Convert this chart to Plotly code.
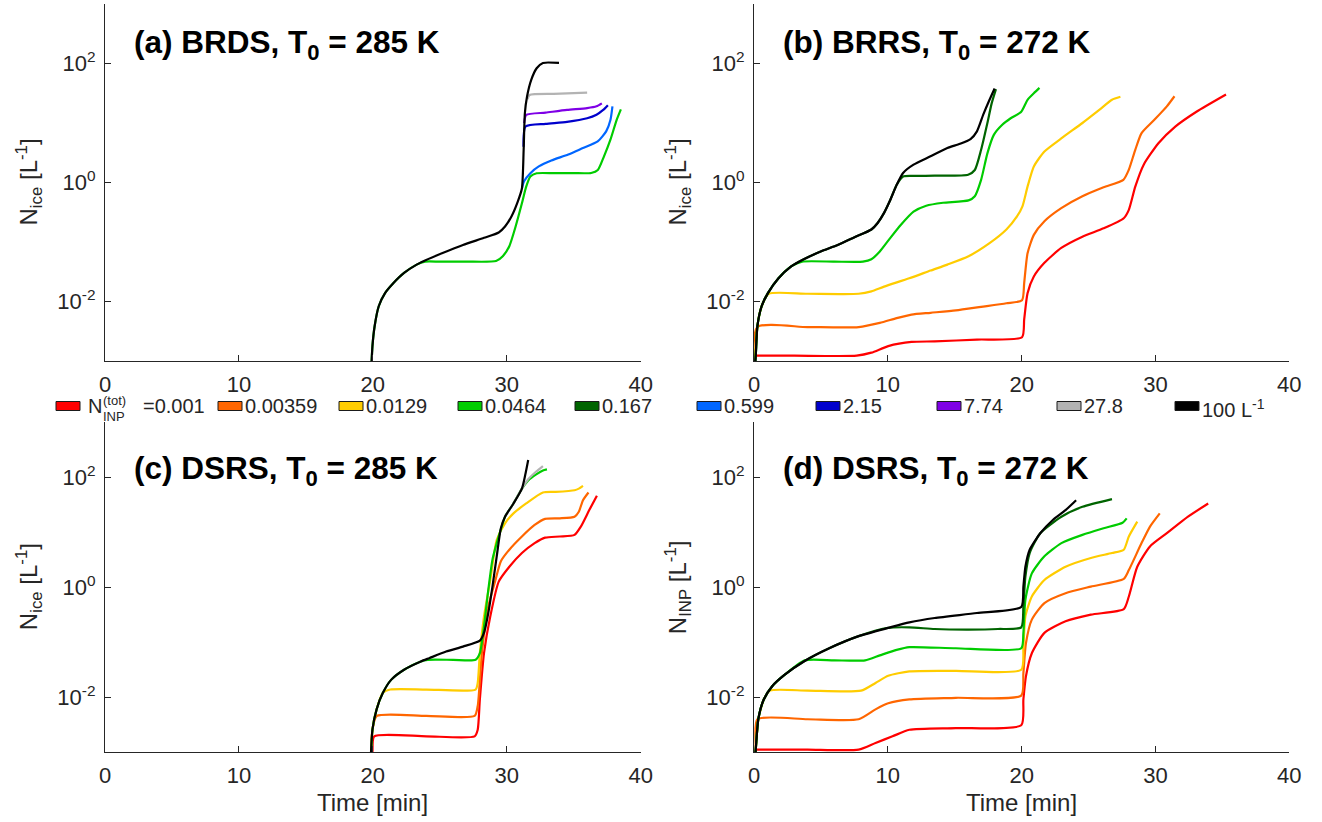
import plotly.graph_objects as go

# ---------------- legend / series definitions ----------------
SERIES_LABELS = ["0.001", "0.00359", "0.0129", "0.0464", "0.167",
                 "0.599", "2.15", "7.74", "27.8", "100"]
SERIES_COLORS = ["#FF0000", "#FF6600", "#FFCC00", "#00CC00", "#006400",
                 "#0066FF", "#0000CC", "#7F00E6", "#B3B3B3", "#000000"]

# ---------------- panel (a) BRDS, T0 = 285 K  (time [min], log10 N) ----------------
A_GREEN_T = [19.85, 19.97, 20.13, 20.44, 20.91, 21.54, 22.33, 23.27, 23.9, 25.0, 27.0, 29.2, 29.7, 30.19, 30.66, 31.13, 31.45, 31.76, 32.23, 33.5, 35.0, 36.3, 36.8, 37.26, 37.74, 38.2, 38.52]
A_GREEN_LOGN = [-3.3, -2.75, -2.42, -2.08, -1.86, -1.69, -1.52, -1.38, -1.33, -1.33, -1.33, -1.32, -1.24, -1.07, -0.74, -0.35, -0.07, 0.10, 0.155, 0.157, 0.157, 0.16, 0.21, 0.44, 0.72, 1.05, 1.23]
A_BLUE_T = [31.13, 31.29, 31.76, 32.39, 33.33, 34.59, 35.69, 36.79, 37.42, 37.74, 37.89]
A_BLUE_LOGN = [-0.10, 0.02, 0.157, 0.27, 0.37, 0.47, 0.58, 0.69, 0.86, 1.05, 1.28]
A_NAVY_T = [31.25, 31.4, 32.9, 34.5, 36.0, 36.7, 37.2, 37.55]
A_NAVY_LOGN = [0.6, 0.94, 0.985, 1.02, 1.08, 1.14, 1.22, 1.30]
A_PURPLE_T = [31.3, 31.45, 32.9, 34.5, 36.0, 36.7, 37.1]
A_PURPLE_LOGN = [1.0, 1.136, 1.175, 1.22, 1.25, 1.28, 1.33]
A_GRAY_T = [31.55, 31.7, 33.5, 36.0]
A_GRAY_LOGN = [1.40, 1.47, 1.49, 1.51]
A_BLACK_T = [19.85, 19.97, 20.13, 20.44, 20.91, 21.54, 22.33, 23.27, 23.9, 25.16, 26.73, 28.3, 29.4, 29.87, 30.35, 30.82, 31.13, 31.26, 31.35, 31.51, 31.82, 32.23, 32.7, 33.9]
A_BLACK_LOGN = [-3.3, -2.75, -2.42, -2.08, -1.86, -1.69, -1.52, -1.38, -1.31, -1.19, -1.05, -0.93, -0.84, -0.74, -0.57, -0.32, -0.10, 0.55, 1.16, 1.44, 1.72, 1.92, 2.01, 2.01]

# ---------------- panel (b) BRRS, T0 = 272 K ----------------
B_RED_T = [0.1, 3.0, 7.67, 8.77, 10.03, 11.77, 13.5, 16.66, 20.03, 20.19, 20.44, 20.91, 21.7, 22.96, 24.54, 26.12, 27.63, 28.01, 28.49, 29.12, 30.22, 31.48, 33.06, 35.27]
B_RED_LOGN = [-2.91, -2.91, -2.91, -2.86, -2.75, -2.68, -2.67, -2.64, -2.60, -2.30, -1.86, -1.58, -1.35, -1.10, -0.91, -0.77, -0.60, -0.46, -0.07, 0.30, 0.66, 0.94, 1.19, 1.48]
B_ORANGE_T = [0.0, 0.25, 4.0, 7.82, 9.4, 10.66, 11.77, 13.19, 15.08, 16.97, 18.86, 20.03, 20.19, 20.44, 20.91, 21.7, 22.96, 24.54, 26.12, 27.6, 28.0, 28.49, 28.96, 29.9, 30.85, 31.42]
B_ORANGE_LOGN = [-3.3, -2.43, -2.43, -2.43, -2.36, -2.28, -2.22, -2.19, -2.15, -2.09, -2.03, -1.98, -1.69, -1.19, -0.88, -0.65, -0.43, -0.23, -0.08, 0.045, 0.21, 0.55, 0.83, 1.05, 1.28, 1.45]
B_YELLOW_T = [0.0, 0.25, 0.57, 1.1, 4.0, 7.82, 8.77, 9.72, 11.6, 13.19, 14.45, 16.03, 17.6, 18.86, 19.65, 20.06, 20.44, 20.91, 21.7, 22.96, 24.54, 25.8, 26.75, 27.38]
B_YELLOW_LOGN = [-3.3, -2.42, -2.08, -1.87, -1.87, -1.87, -1.83, -1.75, -1.61, -1.48, -1.38, -1.24, -1.02, -0.79, -0.57, -0.40, -0.07, 0.27, 0.52, 0.74, 1.0, 1.22, 1.39, 1.44]
B_GREEN_T = [0.0, 0.13, 0.25, 0.57, 1.04, 1.83, 2.78, 3.6, 6.0, 8.14, 8.77, 9.4, 10.19, 10.98, 11.92, 12.87, 14.13, 16.03, 16.5, 16.97, 17.44, 17.92, 18.55, 19.18, 19.97, 20.44, 20.91, 21.33]
B_GREEN_LOGN = [-3.3, -2.91, -2.42, -2.08, -1.86, -1.61, -1.41, -1.33, -1.33, -1.33, -1.29, -1.16, -0.93, -0.71, -0.49, -0.39, -0.34, -0.30, -0.23, 0.045, 0.49, 0.80, 0.97, 1.08, 1.19, 1.39, 1.50, 1.59]
B_DKGREEN_T = [0.0, 0.13, 0.25, 0.57, 1.04, 1.83, 2.78, 3.72, 4.98, 6.25, 7.51, 8.77, 9.24, 9.72, 10.19, 10.66, 11.14, 11.92, 13.5, 16.0, 16.5, 16.97, 17.44, 17.76, 18.08]
B_DKGREEN_LOGN = [-3.3, -2.91, -2.42, -2.08, -1.86, -1.61, -1.41, -1.29, -1.16, -1.05, -0.92, -0.79, -0.68, -0.51, -0.29, -0.04, 0.10, 0.11, 0.115, 0.13, 0.21, 0.55, 1.0, 1.33, 1.57]
B_BLACK_T = [0.0, 0.13, 0.25, 0.57, 1.04, 1.83, 2.78, 3.72, 4.98, 6.25, 7.51, 8.77, 9.24, 9.72, 10.19, 10.66, 11.14, 11.92, 13.19, 14.45, 15.39, 16.18, 16.66, 17.13, 17.6, 17.98]
B_BLACK_LOGN = [-3.3, -2.91, -2.42, -2.08, -1.86, -1.61, -1.41, -1.29, -1.16, -1.05, -0.92, -0.79, -0.68, -0.51, -0.29, -0.04, 0.16, 0.30, 0.44, 0.58, 0.65, 0.73, 0.86, 1.14, 1.39, 1.58]

# ---------------- panel (c) DSRS, T0 = 285 K ----------------
C_RED_T = [19.85, 19.97, 20.1, 24.0, 27.6, 27.83, 27.99, 28.3, 28.77, 29.4, 30.19, 31.13, 32.08, 32.86, 33.96, 35.06, 35.53, 36.16, 36.73]
C_RED_LOGN = [-3.3, -3.0, -2.71, -2.71, -2.71, -2.59, -2.04, -1.20, -0.53, 0.10, 0.37, 0.62, 0.80, 0.90, 0.92, 0.95, 1.10, 1.40, 1.66]
C_ORANGE_T = [19.85, 19.97, 20.3, 24.0, 27.6, 27.83, 28.14, 28.62, 29.09, 29.56, 30.19, 31.13, 32.08, 32.86, 33.96, 35.06, 35.38, 35.69, 36.1]
C_ORANGE_LOGN = [-3.3, -2.59, -2.34, -2.34, -2.34, -2.16, -1.20, -0.35, 0.07, 0.47, 0.68, 0.92, 1.13, 1.24, 1.25, 1.28, 1.37, 1.58, 1.72]
C_YELLOW_T = [19.85, 19.97, 20.28, 20.75, 21.3, 24.0, 27.67, 27.83, 27.99, 28.3, 28.77, 29.25, 29.87, 30.5, 31.45, 32.7, 33.65, 35.06, 35.38, 35.69]
C_YELLOW_LOGN = [-3.3, -2.59, -2.22, -1.92, -1.86, -1.86, -1.86, -1.74, -1.20, -0.53, 0.13, 0.86, 1.16, 1.34, 1.52, 1.72, 1.73, 1.76, 1.79, 1.84]
C_GREEN_T = [19.85, 19.97, 20.28, 20.75, 21.38, 22.33, 23.58, 24.1, 26.0, 27.67, 27.99, 28.3, 28.62, 28.93, 29.25, 29.56, 29.87, 30.5, 31.13, 31.6, 32.2, 32.7, 33.0]
C_GREEN_LOGN = [-3.3, -2.59, -2.22, -1.92, -1.68, -1.50, -1.35, -1.32, -1.32, -1.32, -1.20, -0.71, -0.05, 0.50, 0.80, 1.05, 1.28, 1.52, 1.79, 1.94, 2.05, 2.12, 2.14]
C_GRAY_T = [29.87, 30.5, 31.13, 31.6, 32.2, 32.7]
C_GRAY_LOGN = [1.28, 1.52, 1.79, 1.96, 2.10, 2.20]
C_BLACK_T = [19.81, 19.97, 20.28, 20.75, 21.38, 22.33, 23.58, 24.21, 25.47, 26.73, 27.99, 28.3, 28.62, 28.93, 29.25, 29.56, 29.87, 30.5, 31.13, 31.38, 31.6]
C_BLACK_LOGN = [-3.3, -2.59, -2.22, -1.92, -1.68, -1.50, -1.35, -1.29, -1.17, -1.08, -0.97, -0.83, -0.47, 0.01, 0.56, 1.07, 1.28, 1.52, 1.79, 2.04, 2.31]

# ---------------- panel (d) DSRS, T0 = 272 K ----------------
D_RED_T = [0.1, 4.0, 7.82, 9.08, 10.35, 11.61, 15.08, 19.97, 20.13, 20.32, 20.76, 21.7, 23.28, 25.17, 27.63, 28.01, 28.64, 29.59, 30.85, 32.43, 33.94]
D_RED_LOGN = [-2.95, -2.95, -2.95, -2.83, -2.71, -2.59, -2.56, -2.51, -2.04, -1.62, -1.20, -0.83, -0.62, -0.50, -0.40, -0.17, 0.37, 0.74, 0.98, 1.28, 1.52]
D_ORANGE_T = [0.0, 0.13, 0.25, 4.0, 7.82, 9.08, 10.03, 11.61, 15.08, 19.97, 20.13, 20.32, 20.76, 21.7, 23.28, 25.17, 27.63, 28.01, 28.96, 29.59, 30.32]
D_ORANGE_LOGN = [-3.3, -2.95, -2.40, -2.40, -2.40, -2.22, -2.11, -2.04, -2.01, -1.97, -1.56, -1.02, -0.59, -0.29, -0.11, 0.01, 0.15, 0.31, 0.80, 1.10, 1.34]
D_YELLOW_T = [0.0, 0.13, 0.32, 0.73, 1.2, 4.0, 8.0, 9.08, 10.03, 11.61, 15.08, 19.97, 20.13, 20.28, 20.76, 21.7, 23.28, 25.17, 26.75, 27.63, 28.01, 28.64]
D_YELLOW_LOGN = [-3.3, -2.95, -2.40, -2.04, -1.88, -1.88, -1.88, -1.74, -1.61, -1.53, -1.52, -1.50, -1.08, -0.53, -0.17, 0.13, 0.37, 0.53, 0.62, 0.68, 0.92, 1.19]
D_GREEN_T = [0.0, 0.13, 0.32, 0.73, 1.36, 2.30, 3.8, 6.0, 8.3, 9.4, 10.66, 11.61, 15.08, 19.97, 20.13, 20.28, 20.76, 21.7, 22.97, 24.54, 26.12, 27.54, 27.85]
D_GREEN_LOGN = [-3.3, -2.95, -2.40, -2.04, -1.80, -1.59, -1.33, -1.33, -1.33, -1.24, -1.14, -1.09, -1.11, -1.11, -0.83, -0.23, 0.25, 0.56, 0.80, 0.95, 1.07, 1.17, 1.25]
D_DKGREEN_T = [0.0, 0.13, 0.32, 0.73, 1.36, 2.30, 3.72, 5.62, 7.82, 10.03, 11.61, 13.5, 16.03, 18.23, 19.97, 20.13, 20.28, 20.6, 21.39, 22.97, 24.54, 26.75]
D_DKGREEN_LOGN = [-3.3, -2.95, -2.40, -2.04, -1.80, -1.59, -1.35, -1.11, -0.89, -0.74, -0.73, -0.76, -0.77, -0.76, -0.73, -0.35, 0.19, 0.62, 0.98, 1.28, 1.46, 1.60]
D_BLACK_T = [0.0, 0.13, 0.32, 0.73, 1.36, 2.30, 3.72, 5.62, 7.82, 10.03, 11.61, 13.5, 16.66, 19.97, 20.13, 20.28, 20.6, 21.39, 22.33, 23.28, 24.07]
D_BLACK_LOGN = [-3.3, -2.95, -2.40, -2.04, -1.80, -1.59, -1.35, -1.11, -0.89, -0.74, -0.64, -0.56, -0.47, -0.36, 0.01, 0.37, 0.68, 0.98, 1.22, 1.40, 1.58]

# ---------------- axes / text ----------------
X_TICKS = [0, 10, 20, 30, 40]
Y_TICKS = [0.01, 1, 100]
Y_TICKTEXT = ["10<sup>-2</sup>", "10<sup>0</sup>", "10<sup>2</sup>"]
PANEL_TITLES = ["(a) BRDS, T<sub>0</sub> = 285 K", "(b) BRRS, T<sub>0</sub> = 272 K",
                "(c) DSRS, T<sub>0</sub> = 285 K", "(d) DSRS, T<sub>0</sub> = 272 K"]
Y_LABELS = ["N<sub>ice</sub> [L<sup>-1</sup>]", "N<sub>ice</sub> [L<sup>-1</sup>]",
            "N<sub>ice</sub> [L<sup>-1</sup>]", "N<sub>INP</sub> [L<sup>-1</sup>]"]
X_LABEL = "Time [min]"

FONT = "Liberation Sans, Arial, Helvetica, sans-serif"
AX_COLOR = "#262626"
W, H = 1322, 822

# pixel-based layout
X_DOMAINS = [(105, 640.7), (754, 1289.3)]
Y_DOMAINS = [(4, 361), (422, 752.3)]   # top/bottom pixel rows


def px_x(p):
    return p / W


def px_y(p):
    return 1 - p / H


fig = go.Figure()

panels = {
    1: [(A_GREEN_T, A_GREEN_LOGN, 3), (A_BLUE_T, A_BLUE_LOGN, 5), (A_NAVY_T, A_NAVY_LOGN, 6),
        (A_PURPLE_T, A_PURPLE_LOGN, 7), (A_GRAY_T, A_GRAY_LOGN, 8), (A_BLACK_T, A_BLACK_LOGN, 9)],
    2: [(B_RED_T, B_RED_LOGN, 0), (B_ORANGE_T, B_ORANGE_LOGN, 1), (B_YELLOW_T, B_YELLOW_LOGN, 2),
        (B_GREEN_T, B_GREEN_LOGN, 3), (B_DKGREEN_T, B_DKGREEN_LOGN, 4), (B_BLACK_T, B_BLACK_LOGN, 9)],
    3: [(C_RED_T, C_RED_LOGN, 0), (C_ORANGE_T, C_ORANGE_LOGN, 1), (C_YELLOW_T, C_YELLOW_LOGN, 2),
        (C_GREEN_T, C_GREEN_LOGN, 3), (C_GRAY_T, C_GRAY_LOGN, 8), (C_BLACK_T, C_BLACK_LOGN, 9)],
    4: [(D_RED_T, D_RED_LOGN, 0), (D_ORANGE_T, D_ORANGE_LOGN, 1), (D_YELLOW_T, D_YELLOW_LOGN, 2),
        (D_GREEN_T, D_GREEN_LOGN, 3), (D_DKGREEN_T, D_DKGREEN_LOGN, 4), (D_BLACK_T, D_BLACK_LOGN, 9)],
}

for k, series in panels.items():
    xa = "x" if k == 1 else f"x{k}"
    ya = "y" if k == 1 else f"y{k}"
    for t, logn, ci in series:
        fig.add_trace(go.Scatter(
            x=t, y=[10 ** v for v in logn], mode="lines", xaxis=xa, yaxis=ya,
            line=dict(color=SERIES_COLORS[ci], width=2.2, shape="spline", smoothing=0.6),
            showlegend=False, hoverinfo="skip"))

layout_axes = {}
for k in range(1, 5):
    col = (k - 1) % 2
    row = (k - 1) // 2
    x0, x1 = X_DOMAINS[col]
    ytop, ybot = Y_DOMAINS[row]
    xname = "xaxis" if k == 1 else f"xaxis{k}"
    yname = "yaxis" if k == 1 else f"yaxis{k}"
    layout_axes[xname] = dict(
        domain=[px_x(x0), px_x(x1)], anchor="y" if k == 1 else f"y{k}",
        range=[0, 40], tickvals=X_TICKS, ticks="inside", ticklen=6, tickwidth=1,
        tickcolor=AX_COLOR, showline=True, linecolor=AX_COLOR, linewidth=1.3,
        showgrid=False, zeroline=False, mirror=False, automargin=False,
        tickfont=dict(family=FONT, size=22, color=AX_COLOR), ticklabelstandoff=3)
    layout_axes[yname] = dict(
        domain=[px_y(ybot), px_y(ytop)], anchor="x" if k == 1 else f"x{k}",
        type="log", range=[-3, 3], tickvals=Y_TICKS, ticktext=Y_TICKTEXT,
        ticks="inside", ticklen=6, tickwidth=1, tickcolor=AX_COLOR,
        showline=True, linecolor=AX_COLOR, linewidth=1.3, showgrid=False,
        zeroline=False, mirror=False, automargin=False,
        tickfont=dict(family=FONT, size=22, color=AX_COLOR), ticklabelstandoff=4)

annotations = []
shapes = []
# panel titles
for k in range(4):
    col = k % 2
    row = k // 2
    x0 = X_DOMAINS[col][0] + 27
    yc = [45, 470][row]
    annotations.append(dict(
        text="<b>" + PANEL_TITLES[k] + "</b>", xref="paper", yref="paper",
        x=px_x(x0), y=px_y(yc), xanchor="left", yanchor="middle", showarrow=False,
        font=dict(family=FONT, size=31.5, color="#000000")))
    # y labels
    yc_axis = (Y_DOMAINS[row][0] + Y_DOMAINS[row][1]) / 2
    annotations.append(dict(
        text=Y_LABELS[k], xref="paper", yref="paper", textangle=-90,
        x=px_x(X_DOMAINS[col][0] - 76), y=px_y(yc_axis), xanchor="center", yanchor="middle",
        showarrow=False, font=dict(family=FONT, size=24, color=AX_COLOR)))
    # x labels (bottom row only)
    if row == 1:
        annotations.append(dict(
            text=X_LABEL, xref="paper", yref="paper",
            x=px_x((X_DOMAINS[col][0] + X_DOMAINS[col][1]) / 2), y=px_y(802),
            xanchor="center", yanchor="middle", showarrow=False,
            font=dict(family=FONT, size=24, color=AX_COLOR)))

# manual legend row (patch + label per series)
LEG_PATCH_X = [56, 218, 339, 458, 575, 697, 816, 937, 1057, 1175]
LEG_Y = 406
for i, (lab, colr) in enumerate(zip(SERIES_LABELS, SERIES_COLORS)):
    px0 = LEG_PATCH_X[i]
    shapes.append(dict(type="rect", xref="paper", yref="paper",
                       x0=px_x(px0), x1=px_x(px0 + 24), y0=px_y(LEG_Y + 4.5), y1=px_y(LEG_Y - 4.5),
                       fillcolor=colr, line=dict(color="#1a1a1a", width=1)))
    if i == 0:
        parts = [("N", px0 + 30, LEG_Y, 20), ("(tot)", px0 + 45, LEG_Y - 6, 13),
                 ("INP", px0 + 45, LEG_Y + 10, 13), ("=0.001", px0 + 85, LEG_Y, 20)]
        for txt, xx, yy, fs in parts:
            annotations.append(dict(text=txt, xref="paper", yref="paper", x=px_x(xx), y=px_y(yy),
                                    xanchor="left", yanchor="middle", showarrow=False,
                                    font=dict(family=FONT, size=fs, color=AX_COLOR)))
    else:
        txt = lab + (" L<sup>-1</sup>" if i == len(SERIES_LABELS) - 1 else "")
        annotations.append(dict(text=txt, xref="paper", yref="paper", x=px_x(px0 + 25),
                                y=px_y(LEG_Y + (2 if i == len(SERIES_LABELS) - 1 else 0)),
                                xanchor="left", yanchor="middle", showarrow=False,
                                font=dict(family=FONT, size=20, color=AX_COLOR)))

fig.update_layout(
    width=W, height=H, margin=dict(l=0, r=0, t=0, b=0, pad=0, autoexpand=False),
    paper_bgcolor="white", plot_bgcolor="white",
    annotations=annotations, shapes=shapes, showlegend=False,
    **layout_axes)

fig.write_html("out.html", config={"displayModeBar": False},
               post_script="document.body.style.margin='0';document.body.style.overflow='hidden';")
